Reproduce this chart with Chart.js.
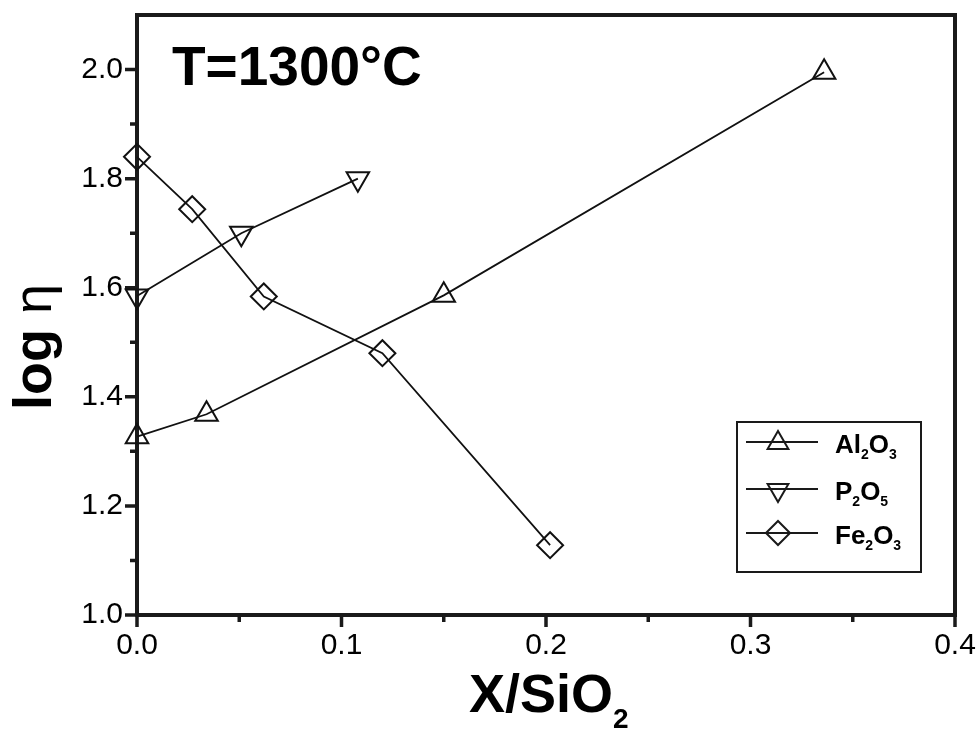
<!DOCTYPE html>
<html>
<head>
<meta charset="utf-8">
<script src="https://cdn.jsdelivr.net/npm/chart.js@4/dist/chart.umd.min.js"></script>
<style>
  html, body { margin: 0; padding: 0; background: #fff; }
  #wrap { width: 979px; height: 729px; }
</style>
</head>
<body>
<div id="wrap"><canvas id="c" width="979" height="729"></canvas></div>
<script>
// ---- data ----
const al2o3X = [0, 0.034, 0.15, 0.336];
const al2o3Y = [1.327, 1.368, 1.586, 1.995];
const p2o5X = [0, 0.051, 0.108];
const p2o5Y = [1.585, 1.70, 1.80];
const fe2o3X = [0, 0.027, 0.062, 0.12, 0.202];
const fe2o3Y = [1.84, 1.744, 1.584, 1.48, 1.128];

const xMajorTicks = [0.0, 0.1, 0.2, 0.3, 0.4];
const xMinorTicks = [0.05, 0.15, 0.25, 0.35];
const yMajorTicks = [1.0, 1.2, 1.4, 1.6, 1.8, 2.0];
const yMinorTicks = [1.1, 1.3, 1.5, 1.7, 1.9];

const seriesNames = ['Al|2|O|3', 'P|2|O|5', 'Fe|2|O|3'];
const titleText = 'T=1300°C';
const xTitle = 'X/SiO|2';
const yTitle = 'log η';

const FONT = '"Liberation Sans", Arial, Helvetica, sans-serif';

const pts = (xs, ys) => xs.map((v, i) => ({ x: v, y: ys[i] }));

function drawRich(ctx, text, x, y, size, subSize, subDrop, weight) {
  // segments separated by '|': even = normal, odd = subscript
  const parts = text.split('|');
  let cx = x;
  parts.forEach((p, i) => {
    const sub = i % 2 === 1;
    ctx.font = weight + ' ' + (sub ? subSize : size) + 'px ' + FONT;
    ctx.fillText(p, cx, sub ? y + subDrop : y);
    cx += ctx.measureText(p).width;
  });
}

function markerPath(ctx, style, x, y, r) {
  ctx.beginPath();
  if (style === 'up' || style === 'down') {
    let rad = style === 'up' ? 0 : Math.PI;
    ctx.moveTo(x + Math.sin(rad) * r, y - Math.cos(rad) * r);
    rad += 2 * Math.PI / 3;
    ctx.lineTo(x + Math.sin(rad) * r, y - Math.cos(rad) * r);
    rad += 2 * Math.PI / 3;
    ctx.lineTo(x + Math.sin(rad) * r, y - Math.cos(rad) * r);
    ctx.closePath();
  } else {
    ctx.moveTo(x - r, y); ctx.lineTo(x, y - r); ctx.lineTo(x + r, y); ctx.lineTo(x, y + r);
    ctx.closePath();
  }
}

const framePlugin = {
  id: 'frame',
  beforeDatasetsDraw(chart) {
    const { ctx, chartArea: a, scales: { x, y } } = chart;
    ctx.save();
    ctx.strokeStyle = '#1a1a1a';
    ctx.lineWidth = 4;
    ctx.lineJoin = 'miter';
    ctx.strokeRect(a.left, a.top, a.right - a.left, a.bottom - a.top);
    ctx.lineWidth = 3.5;
    ctx.beginPath();
    xMajorTicks.forEach(v => { const p = x.getPixelForValue(v); ctx.moveTo(p, a.bottom); ctx.lineTo(p, a.bottom + 12); });
    xMinorTicks.forEach(v => { const p = x.getPixelForValue(v); ctx.moveTo(p, a.bottom); ctx.lineTo(p, a.bottom + 7); });
    yMajorTicks.forEach(v => { const p = y.getPixelForValue(v); ctx.moveTo(a.left, p); ctx.lineTo(a.left - 12, p); });
    yMinorTicks.forEach(v => { const p = y.getPixelForValue(v); ctx.moveTo(a.left, p); ctx.lineTo(a.left - 7, p); });
    ctx.stroke();
    ctx.restore();
  },
  afterDraw(chart) {
    const { ctx } = chart;
    ctx.save();
    ctx.fillStyle = '#000';
    ctx.textAlign = 'left';
    ctx.textBaseline = 'alphabetic';
    // inner title
    ctx.font = 'bold 55px ' + FONT;
    ctx.fillText(titleText, 172, 85);
    // x title
    drawRich(ctx, xTitle, 469, 712, 54, 28, 16, 'bold');
    // y title (rotated)
    ctx.save();
    ctx.translate(51, 347);
    ctx.rotate(-Math.PI / 2);
    const parts = yTitle.split(' ');
    ctx.font = 'bold 54px ' + FONT;
    const w1 = ctx.measureText(parts[0] + ' ').width;
    ctx.font = '54px ' + FONT;
    const w2 = ctx.measureText(parts[1]).width;
    const start = -(w1 + w2) / 2;
    ctx.font = 'bold 54px ' + FONT;
    ctx.fillText(parts[0] + ' ', start, 0);
    ctx.font = '54px ' + FONT;
    ctx.fillText(parts[1], start + w1, 0);
    ctx.restore();
    // legend
    ctx.strokeStyle = '#1a1a1a';
    ctx.lineWidth = 2;
    ctx.strokeRect(737, 422, 184, 150);
    const rows = [442, 489, 533];
    const styles = ['up', 'down', 'diamond'];
    rows.forEach((ry, i) => {
      ctx.beginPath();
      ctx.moveTo(746, ry); ctx.lineTo(818, ry);
      ctx.stroke();
      markerPath(ctx, styles[i], 778, ry + (styles[i] === 'diamond' ? 0 : 1), 12);
      ctx.stroke();
      drawRich(ctx, seriesNames[i], 835, ry + 11, 26, 14, 6, 'bold');
    });
    ctx.restore();
  }
};

const common = {
  showLine: true,
  borderColor: '#111',
  borderWidth: 1.8,
  pointRadius: 13,
  pointHoverRadius: 13,
  pointBorderWidth: 2,
  pointBorderColor: '#111',
  pointBackgroundColor: 'rgba(0,0,0,0)',
  clip: false,
  tension: 0
};

new Chart(document.getElementById('c'), {
  type: 'scatter',
  data: {
    datasets: [
      Object.assign({ label: 'Al2O3', data: pts(al2o3X, al2o3Y), pointStyle: 'triangle' }, common),
      Object.assign({ label: 'P2O5', data: pts(p2o5X, p2o5Y), pointStyle: 'triangle', pointRotation: 180 }, common),
      Object.assign({ label: 'Fe2O3', data: pts(fe2o3X, fe2o3Y), pointStyle: 'rectRot' }, common)
    ]
  },
  options: {
    responsive: false,
    animation: false,
    devicePixelRatio: 1,
    layout: { padding: { left: 0, right: 24, top: 13, bottom: 0 } },
    plugins: { legend: { display: false }, tooltip: { enabled: false } },
    scales: {
      x: {
        type: 'linear', min: 0, max: 0.4,
        grid: { display: false, drawTicks: false },
        border: { display: false },
        afterBuildTicks: s => { s.ticks = xMajorTicks.map(v => ({ value: v })); },
        afterFit: s => { s.height = 114; s.paddingLeft = 0; s.paddingRight = 0; },
        ticks: {
          color: '#000', padding: 13, maxRotation: 0, autoSkip: false,
          font: { family: FONT, size: 30 },
          callback: v => Number(v).toFixed(1)
        }
      },
      y: {
        type: 'linear', min: 1.0, max: 2.1,
        grid: { display: false, drawTicks: false },
        border: { display: false },
        afterBuildTicks: s => { s.ticks = yMajorTicks.map(v => ({ value: v })); },
        afterFit: s => { s.width = 137; s.paddingTop = 0; s.paddingBottom = 0; },
        ticks: {
          color: '#000', padding: 14, autoSkip: false,
          font: { family: FONT, size: 30 },
          callback: v => Number(v).toFixed(1)
        }
      }
    }
  },
  plugins: [framePlugin]
});
</script>
</body>
</html>
